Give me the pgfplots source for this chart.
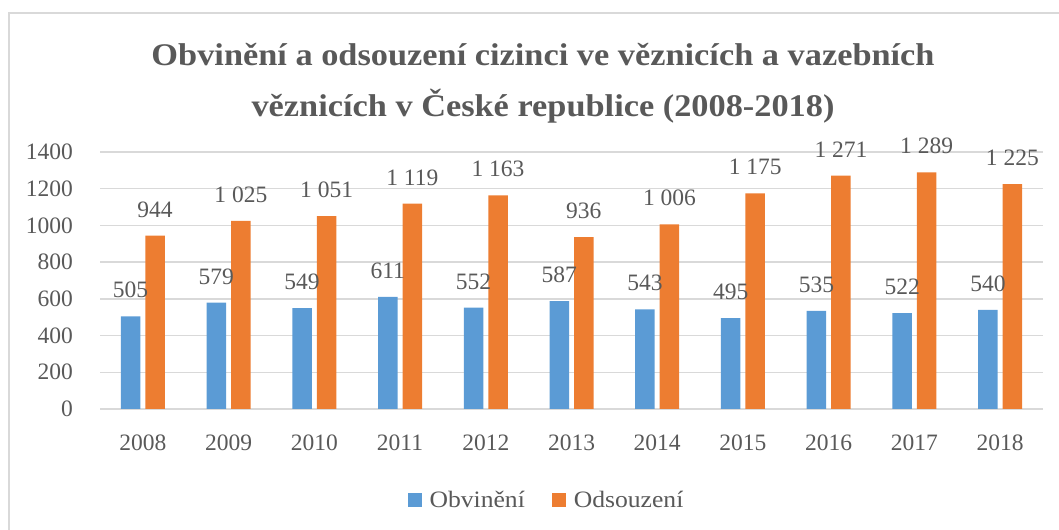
\documentclass[border=0pt]{standalone}
\usepackage{pgfplots}
\pgfplotsset{compat=1.18}
\usepackage{fontspec}
\setmainfont{Liberation Serif}[FakeStretch=1.09]
\newfontfamily\numfont{Liberation Serif}
\definecolor{cblue}{HTML}{5B9BD5}
\definecolor{corange}{HTML}{ED7D31}
\definecolor{ctext}{HTML}{595959}
\definecolor{cgrid}{HTML}{D9D9D9}
\begin{document}
\begin{tikzpicture}[x=1bp,y=1bp]
\path[use as bounding box] (0,0) rectangle (1059,530);
\draw[cgrid, line width=1.5bp] (9,0) -- (9,517) -- (1059,517);
\node[text=ctext, font=\fontsize{31.5bp}{51bp}\selectfont\bfseries, align=center, anchor=base] at (543,413.5) {Obvinění a odsouzení cizinci ve věznicích a vazebních\\věznicích v České republice (2008-2018)};
\begin{axis}[
  at={(100bp,121bp)}, anchor=south west,
  scale only axis, width=943bp, height=257bp,
  ybar=5bp, bar width=19.5bp,
  xmin=-0.5, xmax=10.5, ymin=0, ymax=1400,
  ytick={0,200,...,1400},
  xtick=data,
  xticklabels={2008,2009,2010,2011,2012,2013,2014,2015,2016,2017,2018},
  axis line style={draw=none},
  major tick length=0pt,
  ymajorgrids, grid style={cgrid, line width=1.5bp},
  /pgf/number format/assume math mode=true,
  /pgf/number format/1000 sep={},
  tick label style={text=ctext, font=\numfont\fontsize{23.5bp}{26bp}\selectfont},
  yticklabel style={inner sep=0pt, xshift=-27bp},
  xticklabel style={inner sep=0pt, yshift=-26bp},
  nodes near coords={\pgfmathprintnumber[1000 sep={\ }]{\pgfplotspointmeta}},
  every node near coord/.append style={text=ctext, font=\numfont\fontsize{23.5bp}{26bp}\selectfont, anchor=base, inner sep=0pt, yshift=18.5bp},
  legend columns=2,
  legend style={draw=none, at={(0.4724,-0.353)}, anchor=center, font=\fontsize{23.5bp}{26bp}\selectfont, text=ctext,
    nodes={inner sep=0pt},
    /tikz/every odd column/.append style={column sep=8bp},
    /tikz/every even column/.append style={column sep=27bp}},
  legend image code/.code={\fill[#1] (0bp,-7bp) rectangle (14bp,7bp);},
]
\addplot[fill=cblue, draw=none] coordinates {(0,505) (1,579) (2,549) (3,611) (4,552) (5,587) (6,543) (7,495) (8,535) (9,522) (10,540)};
\addplot[fill=corange, draw=none] coordinates {(0,944) (1,1025) (2,1051) (3,1119) (4,1163) (5,936) (6,1006) (7,1175) (8,1271) (9,1289) (10,1225)};
\legend{Obvinění, Odsouzení}
\end{axis}
\end{tikzpicture}
\end{document}
